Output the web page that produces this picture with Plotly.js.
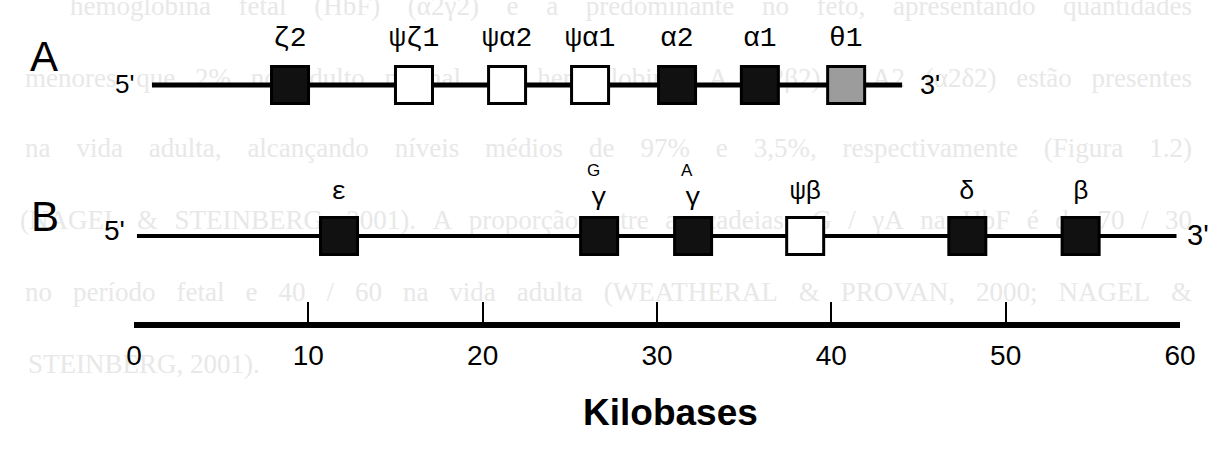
<!DOCTYPE html>
<html>
<head>
<meta charset="utf-8">
<script src="https://cdn.plot.ly/plotly-3.0.1.min.js"></script>
<style>html,body{margin:0;padding:0;background:#fff;}#chart{width:1214px;height:459px;}</style>
</head>
<body>
<div id="chart"></div>
<script>
// ---------- data ----------
const kbTicks = [0, 10, 20, 30, 40, 50, 60];
const kbTickLabels = ["0", "10", "20", "30", "40", "50", "60"];

// cluster A (alpha-like)
const rowAGenes = ["ζ2", "ψζ1", "ψα2", "ψα1", "α2", "α1", "θ1"];
const rowAPos   = [8.95, 16.06, 21.4, 26.16, 31.15, 35.9, 40.85];   // kb
const rowAType  = ["active", "pseudo", "pseudo", "pseudo", "active", "active", "other"];
const rowASpan  = [1.03, 44.06];                                     // kb

// cluster B (beta-like)
const rowBGenes = ["ε", "γ", "γ", "ψβ", "δ", "β"];
const rowBSup   = ["", "G", "A", "", "", ""];
const rowBPos   = [11.76, 26.68, 32.07, 38.5, 47.8, 54.3];           // kb
const rowBType  = ["active", "active", "active", "pseudo", "active", "active"];
const rowBSpan  = [0.17, 59.8];                                      // kb

// faint text showing through from the reverse of the scanned page
const ghostLines = [
  "hemoglobina fetal (HbF) (α2γ2) é a predominante no feto, apresentando quantidades",
  "menores que 2% no adulto normal. As hemoglobinas A (α2β2) e A2 (α2δ2) estão presentes",
  "na vida adulta, alcançando níveis médios de 97% e 3,5%, respectivamente (Figura 1.2)",
  "(NAGEL & STEINBERG, 2001). A proporção entre as cadeias γG / γA na HbF é de 70 / 30",
  "no período fetal e 40 / 60 na vida adulta (WEATHERAL & PROVAN, 2000; NAGEL &",
  "STEINBERG, 2001)."
];

// ---------- layout constants ----------
const W = 1214, H = 459;
const X0_PX = 134, X60_PX = 1180, PX_PER_KB = (X60_PX - X0_PX) / 60;
const ROW_A_Y = 85, ROW_B_Y = 236;
const LABEL_A_Y = 38, LABEL_B_Y = 192, GAMMA_Y = 198, SUP_B_Y = 170;
const AXIS_Y = 325;
const fillFor = {active: "#111111", pseudo: "#ffffff", other: "#9c9c9c"};
const monoFont = "Liberation Mono, Courier New, monospace";
const sansFont = "Liberation Sans, Arial, sans-serif";

function boxTrace(pos, types, y) {
  return {
    x: pos, y: pos.map(() => y), xaxis: "x2", yaxis: "y", type: "scatter", mode: "markers",
    marker: {symbol: "square", size: 37, color: types.map(t => fillFor[t]),
             line: {color: "#000", width: 3}},
    hoverinfo: "skip", showlegend: false, cliponaxis: false
  };
}
function lineTrace(span, y, w) {
  return {x: span, y: [y, y], xaxis: "x2", yaxis: "y", type: "scatter", mode: "lines",
          line: {color: "#000", width: w}, hoverinfo: "skip", showlegend: false, cliponaxis: false};
}

// ghost text as a text trace drawn beneath everything (justified like the scanned page)
const ghostTrace = (function () {
  const size = 27, fam = "Liberation Serif";
  const ctx = document.createElement("canvas").getContext("2d");
  ctx.font = size + "px '" + fam + "'";
  const ys = [8, 80, 150, 222, 294, 366];
  const lefts = [70, 25, 25, 20, 25, 28];
  const right = 1192;
  const gx = [], gy = [], gt = [];
  ghostLines.forEach((line, li) => {
    const words = line.split(" ");
    const ws = words.map(w => ctx.measureText(w).width);
    const total = ws.reduce((a, b) => a + b, 0);
    const justify = li < ghostLines.length - 1;
    const gap = justify ? (right - lefts[li] - total) / (words.length - 1) : ctx.measureText(" ").width;
    let x = lefts[li];
    words.forEach((w, i) => {
      gx.push((x - X0_PX) / PX_PER_KB); gy.push(ys[li]); gt.push(w);
      x += ws[i] + gap;
    });
  });
  return {x: gx, y: gy, text: gt, xaxis: "x", yaxis: "y", type: "scatter", mode: "text",
          textposition: "middle right",
          textfont: {family: fam, size: size, color: "#e8e8e8"}, hoverinfo: "skip",
          showlegend: false, cliponaxis: false};
})();

const traces = [
  ghostTrace,
  lineTrace(rowASpan, ROW_A_Y, 5),
  lineTrace(rowBSpan, ROW_B_Y, 4),
  boxTrace(rowAPos, rowAType, ROW_A_Y),
  boxTrace(rowBPos, rowBType, ROW_B_Y)
];

const ann = [];

// panel letters
ann.push({xref: "paper", yref: "paper", x: 28 / W, y: 1 - 31 / H, text: "A", showarrow: false,
          font: {family: sansFont, size: 42, color: "#000"}});
ann.push({xref: "paper", yref: "paper", x: 29 / W, y: 1 - 216 / H, text: "B", showarrow: false,
          font: {family: sansFont, size: 42, color: "#000"}});

// 5' / 3' ends
ann.push({xref: "x2", yref: "y", x: rowASpan[0], y: ROW_A_Y, xanchor: "right", xshift: -16, yshift: 1,
          text: "5'", showarrow: false, font: {family: sansFont, size: 26, color: "#000"}});
ann.push({xref: "x2", yref: "y", x: rowASpan[1], y: ROW_A_Y, xanchor: "left", xshift: 16, yshift: 0,
          text: "3'", showarrow: false, font: {family: sansFont, size: 27, color: "#000"}});
ann.push({xref: "x2", yref: "y", x: rowBSpan[0], y: ROW_B_Y, xanchor: "right", xshift: -10, yshift: 6,
          text: "5'", showarrow: false, font: {family: sansFont, size: 28, color: "#000"}});
ann.push({xref: "x2", yref: "y", x: rowBSpan[1], y: ROW_B_Y, xanchor: "left", xshift: 8, yshift: 1,
          text: "3'", showarrow: false, font: {family: sansFont, size: 29, color: "#000"}});

// gene labels
rowAGenes.forEach((g, i) => ann.push({xref: "x2", yref: "y", x: rowAPos[i], y: LABEL_A_Y, text: g,
  showarrow: false, font: {family: monoFont, size: 28, color: "#000"}}));
rowBGenes.forEach((g, i) => {
  ann.push({xref: "x2", yref: "y", x: rowBPos[i], y: rowBSup[i] ? GAMMA_Y : LABEL_B_Y, text: g,
            showarrow: false, borderpad: 0, font: {family: monoFont, size: 26, color: "#000"}});
  if (rowBSup[i]) ann.push({xref: "x2", yref: "y", x: rowBPos[i], y: SUP_B_Y, xshift: -6, text: rowBSup[i],
            showarrow: false, borderpad: 0, font: {family: sansFont, size: 17, color: "#000"}});
});

// axis title
ann.push({xref: "paper", yref: "paper", x: 670 / W, y: 1 - 435 / H, text: "Kilobases", showarrow: false,
          font: {family: sansFont, size: 37, color: "#000", weight: "bold"}});

const layout = {
  width: W, height: H, margin: {l: 0, r: 0, t: 0, b: 0},
  paper_bgcolor: "#fff", plot_bgcolor: "rgba(0,0,0,0)",
  showlegend: false,
  // full-width hidden axis in the same kb units (for the page text behind the figure)
  xaxis: {domain: [0, 1], range: [-X0_PX / PX_PER_KB, (W - X0_PX) / PX_PER_KB], anchor: "y",
          visible: false, showgrid: false, zeroline: false, fixedrange: true},
  // the visible kilobase scale
  xaxis2: {domain: [X0_PX / W, X60_PX / W], range: [0, 60], anchor: "free", position: (H - AXIS_Y) / H,
          showline: true, linewidth: 6, linecolor: "#000", ticks: "inside", ticklen: 20, tickwidth: 2,
          tickcolor: "#000", tickvals: kbTicks, ticktext: kbTickLabels, ticklabelstandoff: 3,
          tickfont: {family: "Liberation Sans Narrow, " + sansFont, size: 28, color: "#000"},
          showgrid: false, zeroline: false, fixedrange: true},
  yaxis: {domain: [0, 1], range: [H, 0], anchor: "x", visible: false, showgrid: false, zeroline: false, fixedrange: true},
  annotations: ann
};

Plotly.newPlot("chart", traces, layout, {staticPlot: true, displayModeBar: false});
</script>
</body>
</html>
